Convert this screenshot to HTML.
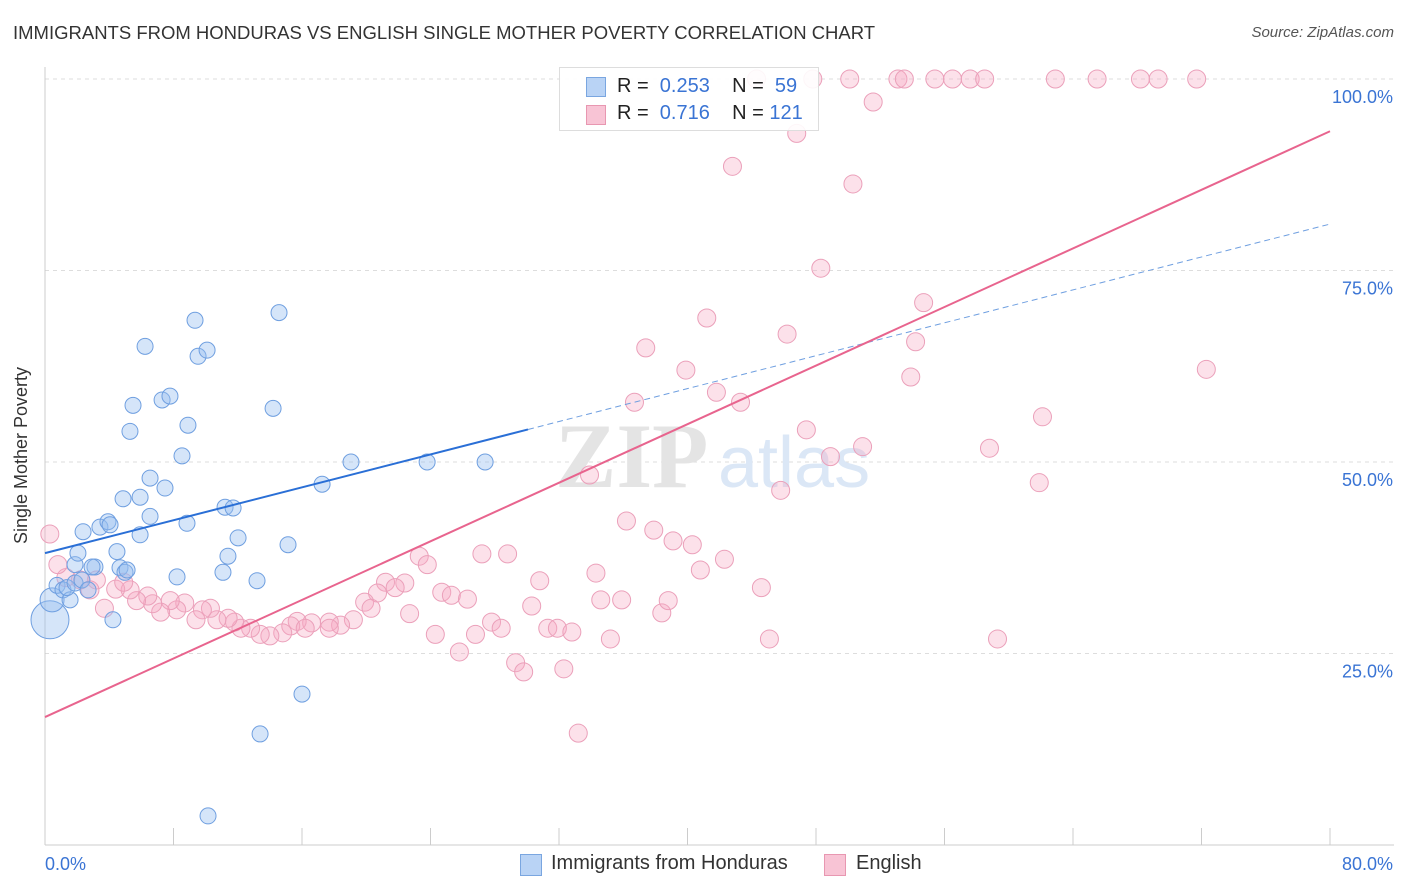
<!DOCTYPE html>
<html><head><meta charset="utf-8"><style>
body{margin:0;background:#fff;font-family:"Liberation Sans",sans-serif;}
#wrap{position:relative;width:1406px;height:892px;overflow:hidden;}
.t{position:absolute;white-space:nowrap;}
</style></head><body>
<div id="wrap">
<div class="t" style="left:13px;top:22px;font-size:18.5px;color:#333;">IMMIGRANTS FROM HONDURAS VS ENGLISH SINGLE MOTHER POVERTY CORRELATION CHART</div>
<div class="t" style="right:12px;top:24px;font-size:15px;color:#555;font-style:italic;">Source: ZipAtlas.com</div>
<div class="t" style="left:-67px;top:445px;font-size:18px;color:#333;transform:rotate(-90deg);">Single Mother Poverty</div>
<svg id="svg" width="1406" height="892" style="position:absolute;left:0;top:0"></svg>
<div style="position:absolute;left:559px;top:67px;width:258px;height:62px;border:1px solid #ddd;background:rgba(255,255,255,0.9);font-size:20px;color:#222;z-index:2;">
 <div style="position:absolute;left:26px;top:9px;width:18px;height:18px;background:#b9d3f5;border:1px solid #7aa6e0;"></div>
 <div class="t" style="left:57px;top:7px;">R = <span style="color:#3a74d4">&nbsp;0.253</span>&nbsp;&nbsp;&nbsp;&nbsp;N = <span style="color:#3a74d4">&nbsp;59</span></div>
 <div style="position:absolute;left:26px;top:37px;width:18px;height:18px;background:#f8c4d5;border:1px solid #e897b1;"></div>
 <div class="t" style="left:57px;top:34px;">R = <span style="color:#3a74d4">&nbsp;0.716</span>&nbsp;&nbsp;&nbsp;&nbsp;N = <span style="color:#3a74d4">121</span></div>
</div>
<div>
 <div style="position:absolute;left:520px;top:854px;width:20px;height:20px;background:#b9d3f5;border:1px solid #7aa6e0;"></div>
 <div class="t" style="left:551px;top:852px;font-size:20px;color:#333;">Immigrants from Honduras</div>
 <div style="position:absolute;left:824px;top:854px;width:20px;height:20px;background:#f8c4d5;border:1px solid #e897b1;"></div>
 <div class="t" style="left:856px;top:852px;font-size:20px;color:#333;">English</div>
</div>
</div>
<script>
const xTicks=[0,8,16,24,32,40,48,56,64,72,80];
const yTicks=[25,50,75,100];
const yTickLabels=["25.0%","50.0%","75.0%","100.0%"];
const xEndLabels=["0.0%","80.0%"];
const blueX=[0.31,0.44,0.75,1.12,1.56,1.37,1.87,2.30,2.68,1.87,2.05,2.37,3.42,3.92,4.05,4.48,4.67,4.98,5.11,3.11,2.93,4.23,5.92,5.92,4.86,5.48,5.29,6.54,6.23,7.29,7.78,7.47,6.54,8.53,8.90,8.84,8.22,9.34,9.53,10.09,11.21,11.71,12.02,11.39,11.08,13.20,14.20,14.57,15.13,17.25,19.05,23.79,27.40,16.00,13.39,10.15];
const blueY=[29.4,32.0,33.9,33.3,32.0,33.6,34.2,34.6,33.3,36.6,38.1,40.9,41.5,42.2,41.8,38.3,36.2,35.6,35.9,36.3,36.3,29.4,40.5,45.4,45.2,57.4,54.0,47.9,65.1,58.1,58.6,46.6,42.9,50.8,54.8,42.0,35.0,68.5,63.8,64.6,44.1,44.0,40.1,37.7,35.6,34.5,57.0,69.5,39.2,47.1,50.0,50.0,50.0,19.7,14.5,3.8];
const pinkX=[44.3,47.8,50.1,53.1,53.5,55.4,56.5,57.6,58.5,62.9,65.5,68.2,69.3,71.7,51.56,46.8,42.8,50.3,48.3,54.7,41.2,46.2,54.2,37.4,39.9,72.3,53.9,41.8,43.3,36.7,62.1,47.4,58.8,50.9,48.9,61.9,33.9,45.8,36.2,37.9,39.1,40.3,42.3,40.8,34.3,44.6,30.8,27.2,28.8,23.3,23.8,21.2,22.4,21.8,20.7,24.7,25.3,26.3,19.9,20.3,22.7,19.2,18.4,17.7,16.6,15.7,15.3,16.2,17.7,14.8,14.0,13.4,12.8,12.2,11.8,11.4,10.7,10.3,9.8,9.4,8.7,8.2,7.8,7.2,6.7,6.4,5.7,5.3,4.4,3.7,3.2,2.8,2.2,1.3,0.8,0.3,4.9,30.3,31.3,31.9,32.8,34.6,35.9,38.4,38.8,35.2,27.8,28.4,26.8,24.3,25.8,29.3,29.8,32.3,33.2,45.1,59.3];
const pinkY=[100,100,100,100,100,100,100,100,100,100,100,100,100,100,97.0,92.9,88.6,86.3,75.3,70.8,68.8,66.7,65.7,64.9,62.0,62.1,61.1,59.1,57.8,57.8,55.9,54.2,51.8,52.0,50.7,47.3,48.3,46.3,42.3,41.1,39.7,39.2,37.3,35.9,35.5,33.6,34.5,38.0,38.0,37.7,36.6,34.3,34.2,33.6,32.9,33.0,32.6,32.1,31.7,30.9,30.2,29.4,28.7,29.1,29.0,29.2,28.6,28.3,28.3,27.7,27.3,27.5,28.3,28.3,29.1,29.6,29.4,30.9,30.7,29.4,31.6,30.7,31.9,30.4,31.5,32.5,31.9,33.3,33.4,30.9,34.6,33.3,34.6,34.9,36.6,40.6,34.3,31.2,28.3,28.3,27.8,32.0,32.0,30.3,31.9,26.9,29.1,28.3,27.5,27.5,25.2,23.8,22.6,23.0,14.6,26.9,26.9];
const blueFit=[38.1,0.537];
const pinkFit=[16.7,0.956];
const sx=v=>45+v/80*1285;
const sy=v=>845-v/100*766;
const svg=document.getElementById('svg');
const NS='http://www.w3.org/2000/svg';
function mk(tag,a){const e=document.createElementNS(NS,tag);for(const k in a)e.setAttribute(k,a[k]);svg.appendChild(e);return e;}
for(let i=0;i<yTicks.length;i++){
 const g=mk('line',{x1:45,x2:1394,y1:sy(yTicks[i]),y2:sy(yTicks[i]),stroke:'#ddd','stroke-dasharray':'4,4'});
 
 
 const t=mk('text',{x:1393,y:sy(yTicks[i])+24,'text-anchor':'end','font-size':18,fill:'#3a74d4','font-family':'Liberation Sans'});
 t.textContent=yTickLabels[i];
 
 
}
const ax=mk('line',{x1:45,x2:1394,y1:845,y2:845,stroke:'#ccc'});


const ay=mk('line',{x1:45,x2:45,y1:67,y2:845,stroke:'#ccc'});


xTicks.forEach(v=>{const l=mk('line',{x1:sx(v),x2:sx(v),y1:828,y2:845,stroke:'#ccc'});
 
 });
[[0,'start',45],[80,'end',1393]].forEach((d,i)=>{const t=mk('text',{x:d[2],y:870,'text-anchor':d[1],'font-size':18,fill:'#3a74d4','font-family':'Liberation Sans'});t.textContent=xEndLabels[i];
 
 });
const w1=mk('text',{x:555,y:487,'font-size':92,fill:'#e4e4e4','font-family':'Liberation Serif','font-weight':'bold'});w1.textContent='ZIP';


const w2=mk('text',{x:718,y:487,'font-size':72,fill:'#dbe7f6','font-family':'Liberation Sans'});w2.textContent='atlas';


pinkX.forEach((x,i)=>{const c=mk('circle',{cx:sx(x),cy:sy(pinkY[i]),r:9,fill:'rgba(245,170,196,0.35)',stroke:'#eba0ba','stroke-width':1});
 
 });
blueX.forEach((x,i)=>{const c=mk('circle',{cx:sx(x),cy:sy(blueY[i]),r:i==0?19:(i==1?12:8),fill:'rgba(150,190,240,0.4)',stroke:'#6f9fe0','stroke-width':1});
 
 });
const bl=mk('line',{x1:sx(0),y1:sy(blueFit[0]),x2:sx(30.07),y2:sy(blueFit[0]+blueFit[1]*30.07),stroke:'#2a6fd6','stroke-width':2});


const bd=mk('line',{x1:sx(30.07),y1:sy(blueFit[0]+blueFit[1]*30.07),x2:sx(80),y2:sy(blueFit[0]+blueFit[1]*80),stroke:'#6f9fe0','stroke-width':1,'stroke-dasharray':'6,4'});


const pl=mk('line',{x1:sx(0),y1:sy(pinkFit[0]),x2:sx(80),y2:sy(pinkFit[0]+pinkFit[1]*80),stroke:'#e8648e','stroke-width':2});


</script>
</body></html>
